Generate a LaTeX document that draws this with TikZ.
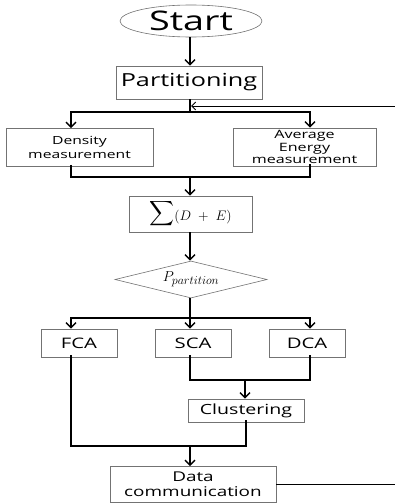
\documentclass[tikz,border=0pt]{standalone}
\usepackage{amsmath}
\usepackage{graphicx}
\usepackage[no-math]{fontspec}
\setmainfont{Open Sans}[FakeStretch=1.4]
\usetikzlibrary{shapes.geometric,arrows.meta}
\begin{document}
\begin{tikzpicture}[x=1pt,y=-1pt,
  box/.style={draw=black!55,line width=0.6pt,fill=white,inner sep=0pt,align=center,font=\fontsize{11}{14}\selectfont},
  conn/.style={line width=1.4pt,draw=black},
  arr/.style={conn,-{Straight Barb[length=5pt,width=10pt,line width=1.4pt]}},
  fbline/.style={line width=0.9pt,draw=black,-{Straight Barb[length=4pt,width=8pt,line width=0.9pt]}}]
\useasboundingbox (0,0) rectangle (395,503);
\clip (0,0) rectangle (395,503);
% guide coordinates
\coordinate (xl) at (71,0);
\coordinate (xm) at (190,0);
\coordinate (xr) at (310,0);
\coordinate (xc) at (246,0);
\coordinate (xloop) at (402,0);
% nodes
\node[box,ellipse,minimum width=142,minimum height=32,font=\fontsize{27}{27}\selectfont] (start) at (191,21) {\raisebox{-1pt}{Start}};
\node[box,minimum width=146,minimum height=33,font=\fontsize{18}{20}\selectfont] (part) at (189,82.5) {Partitioning};
\node[box,minimum width=147,minimum height=38,font=\fontsize{11.2}{14}\selectfont] (dens) at (79.5,147.5) {Density\\measurement};
\node[box,minimum width=143,minimum height=38,font=\fontsize{11.5}{12.3}\selectfont] (ener) at (304.5,147) {Average\\Energy\\measurement};
\node[box,minimum width=123,minimum height=36] (sum) at (190.5,214) {\fontsize{17}{17}\selectfont$\displaystyle\sum$\raisebox{-2.5pt}{\fontsize{12}{12}\selectfont\scalebox{1.15}{$(D\;+\;E)$}}};
\node[box,diamond,shape aspect=4.1,minimum width=152,minimum height=37,font=\fontsize{15}{15}\selectfont] (dia) at (191,279.5) {$P_{\mbox{\fontsize{11.5}{11.5}\selectfont$partition$}}$};
\node[box,minimum width=76,minimum height=28,font=\fontsize{14.5}{16}\selectfont] (fca) at (79,343) {FCA};
\node[box,minimum width=76,minimum height=28,font=\fontsize{14.5}{16}\selectfont] (sca) at (193,343) {SCA};
\node[box,minimum width=76,minimum height=28,font=\fontsize{14.5}{16}\selectfont] (dca) at (307,343) {DCA};
\node[box,minimum width=116,minimum height=23,font=\fontsize{14}{16}\selectfont] (clus) at (246,410.5) {Clustering};
\node[box,minimum width=166,minimum height=36,font=\fontsize{13.5}{15}\selectfont] (data) at (193,484.5) {Data\\communication};
% junctions
\coordinate (j1) at (190,112);
\coordinate (fb) at (191,106);
\coordinate (j2) at (190,177);
\coordinate (j3) at (190,318);
\coordinate (j4) at (245,380);
\coordinate (j5) at (190,446);
% connectors
\draw[arr] (start.south -| xm) -- (part.north -| xm);
\draw[conn] (part.south -| xm) -- (j1);
\draw[arr] (j1) -| (dens.north -| xl);
\draw[arr] (j1) -| (ener.north -| xr);
\draw[fbline] (data.east) -- (data.east -| xloop) -- (xloop |- fb) -- (fb);
\draw[conn] ([yshift=2]dens.south -| xl) -- (xl |- j2) -- (xr |- j2) -- ([yshift=2]ener.south -| xr);
\draw[arr] (j2) -- (sum.north -| xm);
\draw[arr] (sum.south -| xm) -- (dia.north -| xm);
\draw[conn] (dia.south -| xm) -- (j3);
\draw[arr] (j3) -| (fca.north -| xl);
\draw[arr] (j3) -- (sca.north -| xm);
\draw[arr] (j3) -| (dca.north -| xr);
\draw[conn] ([yshift=2]sca.south -| xm) -- (xm |- j4) -- (xr |- j4) -- ([yshift=2]dca.south -| xr);
\draw[arr] (j4) -- (clus.north -| j4);
\draw[conn] ([yshift=2]fca.south -| xl) -- (xl |- j5) -- (xc |- j5) -- ([yshift=2]clus.south -| xc);
\draw[arr] (j5) -- (data.north -| xm);
\end{tikzpicture}
\end{document}
